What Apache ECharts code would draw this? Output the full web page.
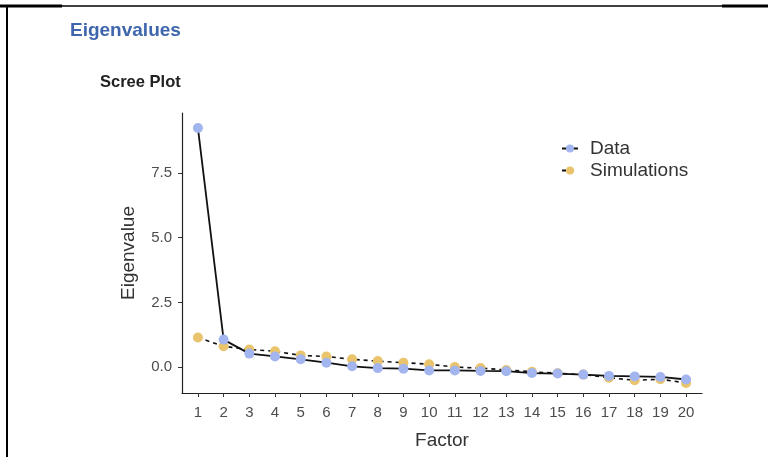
<!DOCTYPE html>
<html>
<head>
<meta charset="utf-8">
<script src="https://cdn.jsdelivr.net/npm/echarts@6/dist/echarts.min.js"></script>
<style>
  html, body { margin: 0; padding: 0; background: #fff; }
  #chart { width: 768px; height: 457px; }
</style>
</head>
<body>
<div id="chart"></div>
<script>
  // factors 1..20
  const factors = [1, 2, 3, 4, 5, 6, 7, 8, 9, 10, 11, 12, 13, 14, 15, 16, 17, 18, 19, 20]
  const dataValues = [9.23, 1.07, 0.53, 0.42, 0.31, 0.18, 0.04, -0.03, -0.05, -0.12,
    -0.12, -0.14, -0.15, -0.22, -0.24, -0.28, -0.33, -0.35, -0.37, -0.47]
  const simValues = [1.15, 0.81, 0.69, 0.62, 0.46, 0.42, 0.31, 0.24, 0.18, 0.12,
    0.01, -0.03, -0.10, -0.17, -0.23, -0.28, -0.40, -0.50, -0.46, -0.60]
  const yTicks = [0, 2.5, 5, 7.5]

  const fontFamily = 'Liberation Sans, Arial, sans-serif'
  const chart = echarts.init(document.getElementById('chart'))

  const option = {
    animation: false,
    backgroundColor: '#fff',
    graphic: [
      // frame lines of the screenshot
      { type: 'line', shape: { x1: 0, y1: 6, x2: 768, y2: 6 }, style: { stroke: '#000', lineWidth: 1.5 } },
      { type: 'line', shape: { x1: 0, y1: 6, x2: 62, y2: 6 }, style: { stroke: '#000', lineWidth: 3 } },
      { type: 'line', shape: { x1: 722, y1: 6, x2: 768, y2: 6 }, style: { stroke: '#000', lineWidth: 3 } },
      { type: 'line', shape: { x1: 7, y1: 5, x2: 7, y2: 457 }, style: { stroke: '#000', lineWidth: 2 } },
      {
        type: 'text', left: 70, top: 21,
        style: { text: 'Eigenvalues', fill: '#3f66ad', font: 'bold 19px ' + fontFamily }
      },
      {
        type: 'text', left: 100, top: 74,
        style: { text: 'Scree Plot', fill: '#222', font: 'bold 16.5px ' + fontFamily }
      }
    ],
    legend: {
      orient: 'vertical',
      left: 556,
      top: 134,
      itemGap: 3,
      itemWidth: 16,
      itemHeight: 10,
      textStyle: { fontSize: 19, color: '#333', fontFamily: fontFamily, padding: [0, 0, 0, 7] },
      data: ['Data', 'Simulations']
    },
    grid: { left: 182, right: 66, top: 113, bottom: 64 },
    xAxis: {
      type: 'value',
      min: 0.38,
      max: 20.62,
      name: 'Factor',
      nameLocation: 'middle',
      nameGap: 38,
      nameTextStyle: { fontSize: 19, color: '#333', fontFamily: fontFamily },
      splitLine: { show: false },
      axisLine: { onZero: false, lineStyle: { color: '#222', width: 1.2 } },
      axisTick: { length: 4, customValues: factors, lineStyle: { color: '#333' } },
      axisLabel: {
        customValues: factors,
        color: '#4d4d4d', fontSize: 15, margin: 12, fontFamily: fontFamily
      }
    },
    yAxis: {
      type: 'value',
      min: -0.99,
      max: 9.81,
      name: 'Eigenvalue',
      nameLocation: 'middle',
      nameGap: 44,
      nameTextStyle: { fontSize: 19, color: '#333', fontFamily: fontFamily },
      splitLine: { show: false },
      axisLine: { show: true, onZero: false, lineStyle: { color: '#222', width: 1.2 } },
      axisTick: { show: true, length: 4, customValues: yTicks, lineStyle: { color: '#333' } },
      axisLabel: {
        customValues: yTicks,
        color: '#4d4d4d', fontSize: 15, margin: 10, fontFamily: fontFamily,
        formatter: v => v.toFixed(1)
      }
    },
    series: [
      {
        name: 'Simulations',
        type: 'line',
        data: factors.map((f, i) => [f, simValues[i]]),
        symbol: 'circle',
        symbolSize: 10,
        itemStyle: { color: '#e9c46c' },
        lineStyle: { color: '#111', width: 1.6, type: [4, 4] },
        z: 2
      },
      {
        name: 'Data',
        type: 'line',
        data: factors.map((f, i) => [f, dataValues[i]]),
        symbol: 'circle',
        symbolSize: 10,
        itemStyle: { color: '#a3b5ee' },
        lineStyle: { color: '#111', width: 1.8 },
        z: 3
      }
    ]
  }

  chart.setOption(option)
</script>
</body>
</html>
